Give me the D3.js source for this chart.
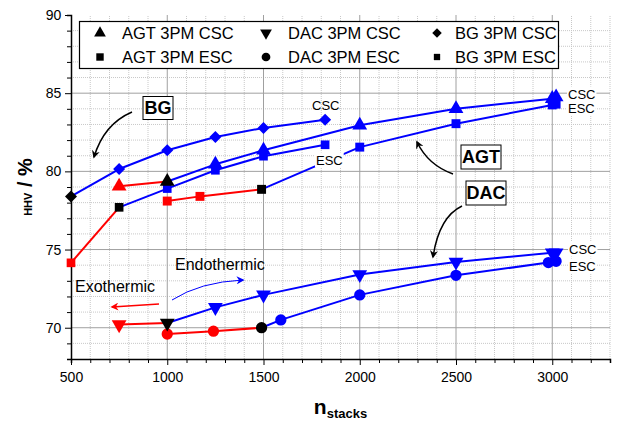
<!DOCTYPE html>
<html lang="en">
<head>
<meta charset="UTF-8">
<title>HHV vs n_stacks</title>
<script src="https://d3js.org/d3.v7.min.js"></script>
<style>
    body, html { margin: 0; padding: 0; background: #fff; }
    svg { display: block; font-family: "Liberation Sans", Arial, sans-serif; }
</style>
</head>
<body>
<div id="chart"></div>
<script>
    // Data
    const agtCscX = [750, 1000, 1250, 1500, 2000, 2500, 3000, 3020];
    const agtCscY = [79.05, 79.35, 80.45, 81.35, 82.95, 84.0, 84.65, 84.75];
    const agtCscPhase = ["exo", "trans", "endo", "endo", "endo", "endo", "endo", "endo"];

    const agtEscX = [1000, 1170, 1490, 2000, 2500, 3000, 3020];
    const agtEscY = [78.1, 78.4, 78.85, 81.55, 83.05, 84.25, 84.3];
    const agtEscPhase = ["exo", "exo", "trans", "endo", "endo", "endo", "endo"];

    const dacCscX = [750, 1000, 1250, 1500, 2000, 2500, 3000, 3020];
    const dacCscY = [70.2, 70.3, 71.3, 72.1, 73.4, 74.2, 74.8, 74.8];
    const dacCscPhase = ["exo", "trans", "endo", "endo", "endo", "endo", "endo", "endo"];

    const dacEscX = [1000, 1240, 1490, 1590, 2000, 2500, 2980, 3020];
    const dacEscY = [69.6, 69.78, 70.0, 70.5, 72.1, 73.35, 74.17, 74.25];
    const dacEscPhase = ["exo", "exo", "trans", "endo", "endo", "endo", "endo", "endo"];

    const bgCscX = [500, 750, 1000, 1250, 1500, 1820];
    const bgCscY = [78.4, 80.15, 81.35, 82.2, 82.78, 83.3];
    const bgCscPhase = ["trans", "endo", "endo", "endo", "endo", "endo"];

    const bgEscX = [500, 750, 1000, 1250, 1500, 1820];
    const bgEscY = [74.15, 77.7, 78.9, 80.07, 80.97, 81.7];
    const bgEscPhase = ["exo", "trans", "endo", "endo", "endo", "endo"];

    const xTicks = [500, 1000, 1500, 2000, 2500, 3000];
    const yTicks = [70, 75, 80, 85, 90];

    const width = 618, height = 425;
    const margin = {top: 15, right: 8, bottom: 66, left: 71};

    const svg = d3.select("#chart").append("svg")
        .attr("width", width)
        .attr("height", height);

    const x = d3.scaleLinear().domain([500, 3300]).range([margin.left, width - margin.right]);
    const y = d3.scaleLinear().domain([68, 90]).range([height - margin.bottom, margin.top]);

    const phaseColor = d3.scaleOrdinal()
        .domain(["exo", "trans", "endo"])
        .range(["#ff0000", "#000000", "#0000ff"]);

    // grid
    const grid = svg.append("g");
    grid.selectAll(".vminor").data(d3.range(600, 3301, 100).filter(v => v % 500 !== 0))
        .enter().append("line")
        .attr("x1", d => x(d)).attr("x2", d => x(d))
        .attr("y1", y(68)).attr("y2", y(90))
        .attr("stroke", "#c8c8c8").attr("stroke-width", 1).attr("stroke-dasharray", "1,1");
    grid.selectAll(".hminor").data(d3.range(69, 90, 1).filter(v => v % 5 !== 0))
        .enter().append("line")
        .attr("x1", x(500)).attr("x2", x(3300))
        .attr("y1", d => y(d)).attr("y2", d => y(d))
        .attr("stroke", "#c8c8c8").attr("stroke-width", 1).attr("stroke-dasharray", "1,1");
    grid.selectAll(".vmajor").data(xTicks.slice(1))
        .enter().append("line")
        .attr("x1", d => x(d)).attr("x2", d => x(d))
        .attr("y1", y(68)).attr("y2", y(90))
        .attr("stroke", "#a0a0a0").attr("stroke-width", 1);
    grid.selectAll(".hmajor").data(yTicks.slice(0, -1))
        .enter().append("line")
        .attr("x1", x(500)).attr("x2", x(3300))
        .attr("y1", d => y(d)).attr("y2", d => y(d))
        .attr("stroke", "#a0a0a0").attr("stroke-width", 1);

    // axes
    const xAxis = svg.append("g")
        .attr("transform", `translate(0,${y(68)})`)
        .call(d3.axisBottom(x).tickValues(d3.range(500, 3301, 100)).tickSize(4)
            .tickFormat(d => xTicks.includes(d) ? d : ""));
    xAxis.selectAll("text").attr("font-size", 14).attr("dy", "1.15em")
        .attr("font-family", "Liberation Sans, Arial, sans-serif").attr("fill", "#000");
    xAxis.selectAll(".tick").filter(d => xTicks.includes(d)).select("line").attr("y2", 6);

    const yAxis = svg.append("g")
        .attr("transform", `translate(${x(500)},0)`)
        .call(d3.axisLeft(y).tickValues(d3.range(68, 90.1, 1)).tickSize(4)
            .tickFormat(d => yTicks.includes(d) ? d : ""));
    yAxis.selectAll("text").attr("font-size", 14).attr("dx", "-0.2em")
        .attr("font-family", "Liberation Sans, Arial, sans-serif").attr("fill", "#000");
    yAxis.selectAll(".tick").filter(d => yTicks.includes(d)).select("line").attr("x2", -6);
    svg.selectAll(".domain").attr("stroke", "#000").attr("stroke-width", 1.5);

    // axis titles
    const yt = svg.append("text")
        .attr("transform", `translate(32,${y(79)}) rotate(-90)`)
        .attr("text-anchor", "middle").attr("font-weight", "bold");
    yt.append("tspan").attr("font-size", 11).text("HHV");
    yt.append("tspan").attr("font-size", 20).text(" / %");

    const xt = svg.append("text")
        .attr("x", (margin.left + width - margin.right) / 2)
        .attr("y", 414)
        .attr("text-anchor", "middle").attr("font-weight", "bold");
    xt.append("tspan").attr("font-size", 21).text("n");
    xt.append("tspan").attr("font-size", 13).attr("dy", 4).text("stacks");

    // series (rot = marker rotation in degrees)
    const series = [
        {xs: bgCscX, ys: bgCscY, ph: bgCscPhase, sym: d3.symbolSquare, size: 72, rot: 45},
        {xs: bgEscX, ys: bgEscY, ph: bgEscPhase, sym: d3.symbolSquare, size: 75, rot: 0},
        {xs: agtEscX, ys: agtEscY, ph: agtEscPhase, sym: d3.symbolSquare, size: 80, rot: 0},
        {xs: agtCscX, ys: agtCscY, ph: agtCscPhase, sym: d3.symbolTriangle, size: 95, rot: 0},
        {xs: dacEscX, ys: dacEscY, ph: dacEscPhase, sym: d3.symbolCircle, size: 100, rot: 0},
        {xs: dacCscX, ys: dacCscY, ph: dacCscPhase, sym: d3.symbolTriangle, size: 95, rot: 180}
    ];

    const lines = svg.append("g");
    const marks = svg.append("g");
    series.forEach(s => {
        const pts = s.xs.map((v, i) => ({x: v, y: s.ys[i], ph: s.ph[i]}));
        const segs = d3.pairs(pts);
        lines.selectAll(null).data(segs).enter().append("line")
            .attr("x1", d => x(d[0].x)).attr("y1", d => y(d[0].y))
            .attr("x2", d => x(d[1].x)).attr("y2", d => y(d[1].y))
            .attr("stroke", d => d[1].ph === "endo" ? "#0000ff" : "#ff0000")
            .attr("stroke-width", 2);
        marks.selectAll(null).data(pts).enter().append("path")
            .attr("d", d3.symbol().type(s.sym).size(s.size))
            .attr("transform", d => `translate(${x(d.x)},${y(d.y)}) rotate(${s.rot})`)
            .attr("fill", d => phaseColor(d.ph));
    });

    // in-plot labels
    function label(px, py, txt, size, bg) {
        const g = svg.append("g");
        const t = g.append("text").attr("x", px).attr("y", py)
            .attr("font-size", size).attr("dominant-baseline", "central").text(txt);
        if (bg) {
            const b = t.node().getBBox();
            g.insert("rect", "text").attr("x", b.x - 1).attr("y", b.y).attr("width", b.width + 2)
                .attr("height", b.height).attr("fill", "#fff");
        }
        return t;
    }
    label(312, 105, "CSC", 13, false);
    label(316, 160, "ESC", 13, true);
    label(568, 94, "CSC", 13, true);
    label(568, 108, "ESC", 13, true);
    label(569, 249, "CSC", 13, true);
    label(569, 266, "ESC", 13, true);

    // boxed tags
    function tag(cx, cy, w, h, txt) {
        svg.append("rect").attr("x", cx - w / 2).attr("y", cy - h / 2).attr("width", w).attr("height", h)
            .attr("fill", "#fff").attr("stroke", "#000").attr("stroke-width", 1);
        svg.append("text").attr("x", cx).attr("y", cy).attr("text-anchor", "middle")
            .attr("dominant-baseline", "central").attr("font-size", 18).attr("font-weight", "bold").text(txt);
    }
    tag(158, 108, 30, 23, "BG");
    tag(481, 157, 40, 24, "AGT");
    tag(486, 193, 40, 24, "DAC");

    // arrows
    const defs = svg.append("defs");
    [["blk", "#000"], ["red", "#ff0000"], ["blu", "#0000ff"]].forEach(([id, c]) => {
        defs.append("marker").attr("id", "ah-" + id).attr("viewBox", "0 0 10 10")
            .attr("refX", 8).attr("refY", 5).attr("markerWidth", 9).attr("markerHeight", 8)
            .attr("markerUnits", "userSpaceOnUse").attr("orient", "auto")
            .append("path").attr("d", "M0,0 L10,5 L0,10 L3,5 Z").attr("fill", c);
    });
    function arrow(d, id, c, w) {
        svg.append("path").attr("d", d).attr("fill", "none").attr("stroke", c)
            .attr("stroke-width", w).attr("marker-end", `url(#ah-${id})`);
    }
    arrow("M132,112 Q104,124 94,157", "blk", "#000", 1.5);
    arrow("M453,174 Q428,165 417,142", "blk", "#000", 1.5);
    arrow("M462,206 Q439,217 433,257", "blk", "#000", 1.5);
    arrow("M172,300 Q200,282 243,280", "blu", "#0000ff", 1);
    arrow("M159,304 L112,307", "red", "#ff0000", 1.5);

    label(175, 264, "Endothermic", 16, false);
    label(75, 286, "Exothermic", 16, false);

    // legend
    const lg = svg.append("g");
    lg.append("rect").attr("x", 79.5).attr("y", 21.5).attr("width", 479).attr("height", 47)
        .attr("fill", "#fff").attr("stroke", "#000").attr("stroke-width", 1.2);
    const legendNames = ["AGT 3PM CSC", "DAC 3PM CSC", "BG 3PM CSC", "AGT 3PM ESC", "DAC 3PM ESC", "BG 3PM ESC"];
    const legendSyms = [d3.symbolTriangle, d3.symbolTriangle, d3.symbolSquare, d3.symbolSquare, d3.symbolCircle, d3.symbolSquare];
    const legendSizes = [60, 60, 45, 55, 60, 40];
    const legendRot = [0, 180, 45, 0, 0, 0];
    const colSym = [100, 266, 437], colTxt = [122, 288, 455], rowY = [33, 57];
    legendNames.forEach((n, i) => {
        const c = i % 3, r = Math.floor(i / 3);
        lg.append("path").attr("d", d3.symbol().type(legendSyms[i]).size(legendSizes[i]))
            .attr("transform", `translate(${colSym[c]},${rowY[r]}) rotate(${legendRot[i]})`)
            .attr("fill", "#000");
        lg.append("text").attr("x", colTxt[c]).attr("y", rowY[r]).attr("dominant-baseline", "central")
            .attr("font-size", 16.5).text(n);
    });
</script>
</body>
</html>
